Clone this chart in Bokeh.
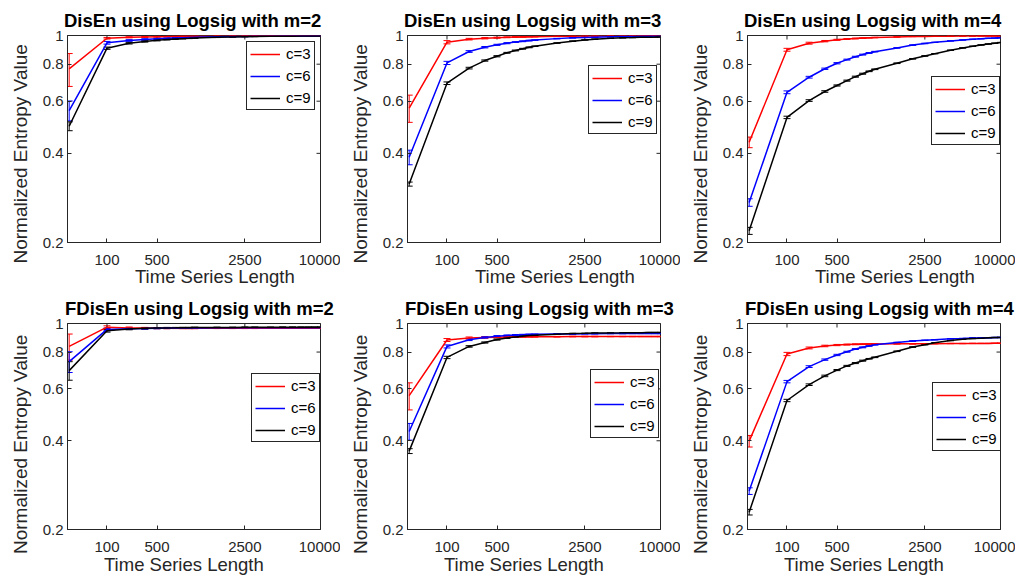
import math
from bokeh.plotting import figure
from bokeh.models import (ColumnDataSource, Whisker, TeeHead, Legend, LegendItem,
                          FixedTicker, Range1d, Title)
from bokeh.layouts import gridplot
from bokeh.embed import file_html
from bokeh.resources import INLINE

# ---------------- data ----------------
lengths = [100, 200, 300, 400, 500, 600, 700, 800, 900, 1000,
           1500, 2000, 2500, 3000, 4000, 5000, 6000, 7000, 8000, 9000, 10000]
x_tick_values = [200, 500, 2500, 10000]
x_tick_labels = ["100", "500", "2500", "10000"]
y_tick_values = [0.2, 0.4, 0.6, 0.8, 1.0]
y_tick_labels = ["0.2", "0.4", "0.6", "0.8", "1"]
series_labels = ["c=3", "c=6", "c=9"]
x_title = "Time Series Length"
y_title = "Normalized Entropy Value"
panel_titles = ["DisEn using Logsig with m=2", "DisEn using Logsig with m=3",
                "DisEn using Logsig with m=4", "FDisEn using Logsig with m=2",
                "FDisEn using Logsig with m=3", "FDisEn using Logsig with m=4"]

# DisEn m=2
disen_m2_c3 = [0.771, 0.979, 0.986, 0.989, 0.991, 0.992, 0.993, 0.994, 0.994, 0.995, 0.996, 0.997, 0.997, 0.998, 0.998, 0.998, 0.998, 0.999, 0.999, 0.999, 0.999]
disen_m2_c3_sd = [0.098, 0.006, 0.004, 0.003, 0.003, 0.002, 0.002, 0.002, 0.002, 0.002, 0.001, 0.001, 0.001, 0.001, 0.001, 0.001, 0.001, 0.001, 0.001, 0.001, 0.001]
disen_m2_c6 = [0.558, 0.945, 0.962, 0.970, 0.975, 0.978, 0.981, 0.983, 0.985, 0.986, 0.990, 0.992, 0.993, 0.994, 0.995, 0.996, 0.996, 0.997, 0.997, 0.997, 0.998]
disen_m2_c6_sd = [0.043, 0.010, 0.006, 0.005, 0.004, 0.003, 0.003, 0.003, 0.002, 0.002, 0.002, 0.001, 0.001, 0.001, 0.001, 0.001, 0.001, 0.001, 0.001, 0.001, 0.001]
disen_m2_c9 = [0.494, 0.906, 0.942, 0.955, 0.963, 0.969, 0.973, 0.976, 0.978, 0.980, 0.986, 0.989, 0.991, 0.992, 0.994, 0.995, 0.995, 0.996, 0.996, 0.997, 0.997]
disen_m2_c9_sd = [0.017, 0.008, 0.006, 0.005, 0.004, 0.003, 0.003, 0.003, 0.002, 0.002, 0.002, 0.001, 0.001, 0.001, 0.001, 0.001, 0.001, 0.001, 0.001, 0.001, 0.001]

# DisEn m=3
disen_m3_c3 = [0.569, 0.949, 0.972, 0.979, 0.983, 0.986, 0.988, 0.989, 0.990, 0.991, 0.994, 0.995, 0.996, 0.996, 0.997, 0.997, 0.998, 0.998, 0.998, 0.998, 0.998]
disen_m3_c3_sd = [0.060, 0.012, 0.006, 0.005, 0.004, 0.003, 0.003, 0.003, 0.002, 0.002, 0.002, 0.001, 0.001, 0.001, 0.001, 0.001, 0.001, 0.001, 0.001, 0.001, 0.001]
disen_m3_c6 = [0.388, 0.808, 0.883, 0.913, 0.930, 0.942, 0.950, 0.956, 0.961, 0.965, 0.976, 0.982, 0.985, 0.987, 0.990, 0.992, 0.993, 0.994, 0.995, 0.995, 0.996]
disen_m3_c6_sd = [0.022, 0.010, 0.006, 0.005, 0.004, 0.004, 0.003, 0.003, 0.003, 0.002, 0.002, 0.002, 0.001, 0.001, 0.001, 0.001, 0.001, 0.001, 0.001, 0.001, 0.001]
disen_m3_c9 = [0.315, 0.690, 0.776, 0.823, 0.851, 0.874, 0.890, 0.902, 0.912, 0.920, 0.943, 0.957, 0.966, 0.972, 0.978, 0.982, 0.984, 0.986, 0.987, 0.988, 0.989]
disen_m3_c9_sd = [0.005, 0.007, 0.005, 0.004, 0.004, 0.003, 0.003, 0.003, 0.003, 0.002, 0.002, 0.002, 0.001, 0.001, 0.001, 0.001, 0.001, 0.001, 0.001, 0.001, 0.001]

# DisEn m=4
disen_m4_c3 = [0.436, 0.895, 0.942, 0.957, 0.967, 0.973, 0.977, 0.980, 0.982, 0.984, 0.989, 0.992, 0.993, 0.994, 0.995, 0.996, 0.996, 0.997, 0.997, 0.997, 0.997]
disen_m4_c3_sd = [0.018, 0.010, 0.007, 0.005, 0.004, 0.003, 0.003, 0.003, 0.002, 0.002, 0.002, 0.001, 0.001, 0.001, 0.001, 0.001, 0.001, 0.001, 0.001, 0.001, 0.001]
disen_m4_c6 = [0.273, 0.643, 0.723, 0.772, 0.806, 0.829, 0.848, 0.862, 0.873, 0.882, 0.908, 0.928, 0.940, 0.948, 0.959, 0.966, 0.971, 0.975, 0.978, 0.980, 0.982]
disen_m4_c6_sd = [0.008, 0.007, 0.005, 0.004, 0.004, 0.003, 0.003, 0.003, 0.003, 0.002, 0.002, 0.002, 0.002, 0.001, 0.001, 0.001, 0.001, 0.001, 0.001, 0.001, 0.001]
disen_m4_c9 = [0.219, 0.529, 0.603, 0.647, 0.678, 0.704, 0.726, 0.743, 0.757, 0.769, 0.806, 0.834, 0.853, 0.868, 0.892, 0.908, 0.920, 0.929, 0.936, 0.942, 0.947]
disen_m4_c9_sd = [0.006, 0.005, 0.004, 0.004, 0.003, 0.003, 0.003, 0.003, 0.002, 0.002, 0.002, 0.002, 0.002, 0.001, 0.001, 0.001, 0.001, 0.001, 0.001, 0.001, 0.001]

# FDisEn m=2
fdisen_m2_c3 = [0.836, 0.972, 0.966, 0.965, 0.964, 0.964, 0.964, 0.963, 0.963, 0.963, 0.963, 0.963, 0.963, 0.963, 0.963, 0.963, 0.963, 0.963, 0.963, 0.963, 0.963]
fdisen_m2_c3_sd = [0.085, 0.010, 0.007, 0.005, 0.004, 0.004, 0.003, 0.003, 0.003, 0.003, 0.002, 0.002, 0.002, 0.002, 0.001, 0.001, 0.001, 0.001, 0.001, 0.001, 0.001]
fdisen_m2_c6 = [0.742, 0.955, 0.960, 0.962, 0.964, 0.965, 0.965, 0.966, 0.966, 0.966, 0.967, 0.967, 0.967, 0.968, 0.968, 0.968, 0.968, 0.968, 0.968, 0.968, 0.968]
fdisen_m2_c6_sd = [0.060, 0.010, 0.006, 0.005, 0.004, 0.004, 0.003, 0.003, 0.003, 0.003, 0.002, 0.002, 0.002, 0.002, 0.001, 0.001, 0.001, 0.001, 0.001, 0.001, 0.001]
fdisen_m2_c9 = [0.692, 0.945, 0.958, 0.963, 0.965, 0.966, 0.967, 0.968, 0.968, 0.969, 0.970, 0.970, 0.971, 0.971, 0.971, 0.972, 0.972, 0.972, 0.972, 0.972, 0.972]
fdisen_m2_c9_sd = [0.050, 0.010, 0.006, 0.005, 0.004, 0.004, 0.003, 0.003, 0.003, 0.003, 0.002, 0.002, 0.002, 0.002, 0.001, 0.001, 0.001, 0.001, 0.001, 0.001, 0.001]

# FDisEn m=3
fdisen_m3_c3 = [0.569, 0.879, 0.893, 0.897, 0.899, 0.900, 0.901, 0.901, 0.902, 0.902, 0.902, 0.903, 0.903, 0.903, 0.903, 0.903, 0.903, 0.903, 0.903, 0.903, 0.903]
fdisen_m3_c3_sd = [0.060, 0.010, 0.007, 0.005, 0.004, 0.004, 0.003, 0.003, 0.003, 0.003, 0.002, 0.002, 0.002, 0.002, 0.001, 0.001, 0.001, 0.001, 0.001, 0.001, 0.001]
fdisen_m3_c6 = [0.430, 0.836, 0.881, 0.897, 0.906, 0.911, 0.914, 0.916, 0.918, 0.919, 0.921, 0.922, 0.923, 0.923, 0.924, 0.924, 0.925, 0.925, 0.925, 0.925, 0.925]
fdisen_m3_c6_sd = [0.028, 0.010, 0.006, 0.005, 0.004, 0.003, 0.003, 0.003, 0.003, 0.002, 0.002, 0.002, 0.002, 0.001, 0.001, 0.001, 0.001, 0.001, 0.001, 0.001, 0.001]
fdisen_m3_c9 = [0.369, 0.767, 0.836, 0.862, 0.882, 0.893, 0.900, 0.906, 0.910, 0.913, 0.920, 0.924, 0.926, 0.928, 0.929, 0.930, 0.931, 0.931, 0.932, 0.932, 0.932]
fdisen_m3_c9_sd = [0.007, 0.007, 0.005, 0.004, 0.004, 0.003, 0.003, 0.003, 0.002, 0.002, 0.002, 0.002, 0.001, 0.001, 0.001, 0.001, 0.001, 0.001, 0.001, 0.001, 0.001]

# FDisEn m=4
fdisen_m4_c3 = [0.399, 0.788, 0.826, 0.839, 0.845, 0.848, 0.850, 0.851, 0.852, 0.852, 0.853, 0.853, 0.854, 0.854, 0.855, 0.855, 0.856, 0.856, 0.856, 0.857, 0.857]
fdisen_m4_c3_sd = [0.018, 0.010, 0.006, 0.005, 0.004, 0.003, 0.003, 0.003, 0.002, 0.002, 0.002, 0.002, 0.001, 0.001, 0.001, 0.001, 0.001, 0.001, 0.001, 0.001, 0.001]
fdisen_m4_c6 = [0.270, 0.635, 0.714, 0.754, 0.782, 0.802, 0.819, 0.830, 0.839, 0.847, 0.862, 0.872, 0.877, 0.881, 0.887, 0.890, 0.893, 0.894, 0.895, 0.896, 0.897]
fdisen_m4_c6_sd = [0.007, 0.006, 0.005, 0.004, 0.004, 0.003, 0.003, 0.003, 0.002, 0.002, 0.002, 0.002, 0.001, 0.001, 0.001, 0.001, 0.001, 0.001, 0.001, 0.001, 0.001]
fdisen_m4_c9 = [0.229, 0.548, 0.620, 0.664, 0.695, 0.718, 0.734, 0.748, 0.759, 0.768, 0.805, 0.832, 0.847, 0.860, 0.875, 0.884, 0.889, 0.892, 0.895, 0.896, 0.897]
fdisen_m4_c9_sd = [0.005, 0.005, 0.004, 0.004, 0.003, 0.003, 0.003, 0.003, 0.002, 0.002, 0.002, 0.002, 0.001, 0.001, 0.001, 0.001, 0.001, 0.001, 0.001, 0.001, 0.001]

panel_series = [
    [(disen_m2_c3, disen_m2_c3_sd), (disen_m2_c6, disen_m2_c6_sd), (disen_m2_c9, disen_m2_c9_sd)],
    [(disen_m3_c3, disen_m3_c3_sd), (disen_m3_c6, disen_m3_c6_sd), (disen_m3_c9, disen_m3_c9_sd)],
    [(disen_m4_c3, disen_m4_c3_sd), (disen_m4_c6, disen_m4_c6_sd), (disen_m4_c9, disen_m4_c9_sd)],
    [(fdisen_m2_c3, fdisen_m2_c3_sd), (fdisen_m2_c6, fdisen_m2_c6_sd), (fdisen_m2_c9, fdisen_m2_c9_sd)],
    [(fdisen_m3_c3, fdisen_m3_c3_sd), (fdisen_m3_c6, fdisen_m3_c6_sd), (fdisen_m3_c9, fdisen_m3_c9_sd)],
    [(fdisen_m4_c3, fdisen_m4_c3_sd), (fdisen_m4_c6, fdisen_m4_c6_sd), (fdisen_m4_c9, fdisen_m4_c9_sd)],
]

# ---------------- style / layout ----------------
colors = ["#ff0000", "#0000ff", "#000000"]
FONT = "Liberation Sans"
AX = "#262626"
FW = 253
legend_pos = [(179, 132), (181, 108), (184, 97), (184, 87), (183, 91), (185, 78)]
border_left = [65, 67, 67]
border_right = [20, 20, 15]
border_top = [35, 34]
border_bottom = [47, 46]
frame_h = [207, 206]
title_shift = [-3.6, -2.5]       # left edge of the panel title relative to the frame
xlabel_shift = [67.5, 36.5]      # left edge of the x label relative to the frame
xlabel_standoff = [-4, -1]
ylabel_shift = [-21, -24.5]      # start (bottom end) of the y label relative to frame bottom


def style_axis(ax, ticks, labels, standoff):
    ax.ticker = FixedTicker(ticks=ticks, minor_ticks=[])
    ax.major_label_overrides = dict(zip(ticks, labels))
    ax.axis_line_color = AX
    ax.major_tick_line_color = AX
    ax.major_tick_in = 4
    ax.major_tick_out = 0
    ax.minor_tick_in = 0
    ax.minor_tick_out = 0
    ax.major_label_text_font = FONT
    ax.major_label_text_font_size = "15px"
    ax.major_label_text_color = AX
    ax.major_label_standoff = standoff


figs = []
for i in range(6):
    r, c = divmod(i, 3)
    xr = Range1d(97, 10000)
    yr = Range1d(0.2, 1.0)
    p = figure(frame_width=FW, frame_height=frame_h[r],
               x_axis_type="log", y_axis_type="log",
               x_range=xr, y_range=yr,
               output_backend="svg", toolbar_location=None,
               min_border_left=border_left[c], min_border_right=border_right[c],
               min_border_top=border_top[r], min_border_bottom=border_bottom[r])
    p.title.text = panel_titles[i]
    p.title.align = "left"
    p.title.offset = title_shift[r]
    p.title.text_font = FONT
    p.title.text_font_size = "18.5px"
    p.title.text_font_style = "bold"
    p.title.text_color = "#000000"
    p.title.standoff = 10
    p.xgrid.visible = False
    p.ygrid.visible = False
    p.outline_line_color = AX
    p.outline_line_alpha = 1.0
    p.outline_line_width = 1
    style_axis(p.xaxis[0], x_tick_values, x_tick_labels, 12)
    style_axis(p.yaxis[0], y_tick_values, y_tick_labels, 4)

    # axis titles
    p.add_layout(Title(text=x_title, align="left", offset=xlabel_shift[r],
                       vertical_align="top", standoff=xlabel_standoff[r],
                       text_font=FONT, text_font_size="18.5px",
                       text_font_style="normal", text_color=AX), "below")
    p.add_layout(Title(text=y_title, align="left", offset=ylabel_shift[r],
                       vertical_align="middle", standoff=16,
                       text_font=FONT, text_font_size="19px",
                       text_font_style="normal", text_color=AX), "left")

    # inward ticks on the top and right edges (box axes)
    p.scatter(x=x_tick_values, y=[yr.end] * len(x_tick_values), marker="dash",
              size=8, angle=math.pi / 2, line_color=AX, line_width=1)
    p.scatter(x=[xr.end] * len(y_tick_values), y=y_tick_values, marker="dash",
              size=8, angle=0, line_color=AX, line_width=1)

    items = []
    for (vals, sd), col, lab in zip(panel_series[i], colors, series_labels):
        src = ColumnDataSource(dict(
            x=lengths, y=vals,
            upper=[v + e for v, e in zip(vals, sd)],
            lower=[v - e for v, e in zip(vals, sd)]))
        ln = p.line("x", "y", source=src, line_color=col, line_width=1.5)
        wk = Whisker(source=src, base="x", upper="upper", lower="lower",
                     dimension="height", line_color=col, line_width=1,
                     upper_head=TeeHead(size=7, line_color=col, line_width=1),
                     lower_head=TeeHead(size=7, line_color=col, line_width=1))
        p.add_layout(wk)
        items.append(LegendItem(label=lab, renderers=[ln]))
    leg = Legend(items=items, location=legend_pos[i],
                 label_text_font=FONT, label_text_font_size="15px",
                 label_text_color="#000000",
                 border_line_color=AX, border_line_width=1, border_line_alpha=1.0,
                 background_fill_color="#ffffff", background_fill_alpha=1.0,
                 padding=3, spacing=5, margin=0,
                 glyph_width=30, glyph_height=16, label_standoff=6)
    p.add_layout(leg)
    figs.append(p)

grid = gridplot([figs[0:3], figs[3:6]], toolbar_location=None)
open("out.html", "w").write(file_html(grid, INLINE))
